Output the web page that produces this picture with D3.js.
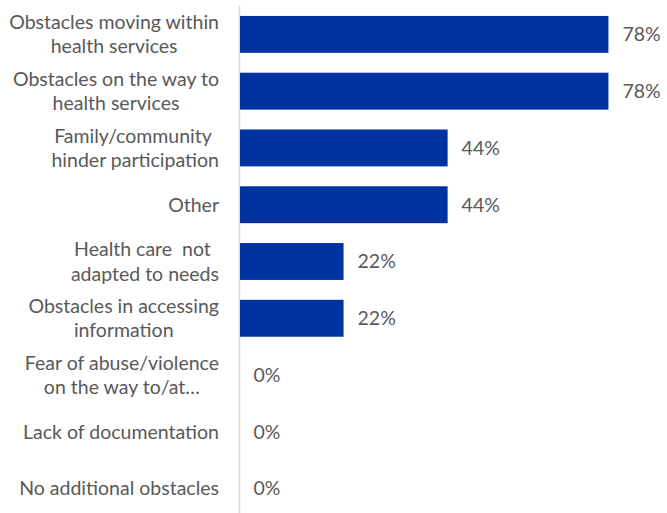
<!DOCTYPE html>
<html>
<head>
<meta charset="utf-8">
<script src="https://cdn.jsdelivr.net/npm/d3@7"></script>
<style>
  html, body { margin: 0; padding: 0; background: #fff; }
  svg text { font-family: Lato, "Open Sans", sans-serif; fill: #595959; white-space: pre; }
</style>
</head>
<body>
<svg id="chart" width="667" height="513"></svg>
<script>
// Obstacles reported, share of respondents (%)
const categories = [
  ["Obstacles moving within", "health services"],
  ["Obstacles on the way to", "health services"],
  ["Family/community ", "hinder participation"],
  ["Other"],
  ["Health care  not ", "adapted to needs"],
  ["Obstacles in accessing", "information"],
  ["Fear of abuse/violence", "on the way to/at\u2026"],
  ["Lack of documentation"],
  ["No additional obstacles"]
];
const values = [78, 78, 44, 44, 22, 22, 0, 0, 0];
const valueLabels = ["78%", "78%", "44%", "44%", "22%", "22%", "0%", "0%", "0%"];

const svg = d3.select("#chart");
const idx = d3.range(categories.length);

const x = d3.scaleLinear().domain([0, 100]).range([239.5, 712.5]);
const y = d3.scaleBand().domain(idx).range([6, 517]).paddingInner(0.35).paddingOuter(0.175);

const fontSize = 19.5;
const lineGap = 24.5;
const labelRight = 219;

// vertical category axis line
svg.append("line")
  .attr("x1", x(0)).attr("x2", x(0))
  .attr("y1", 6).attr("y2", 513)
  .attr("stroke", "#d9d9d9").attr("stroke-width", 1.5);

// bars
svg.append("g").selectAll("rect").data(idx).join("rect")
  .attr("x", x(0) + 0.5)
  .attr("y", i => y(i))
  .attr("width", i => Math.max(0, x(values[i]) - x(0) - 0.5))
  .attr("height", y.bandwidth())
  .attr("fill", "#0033a0");

// value labels
svg.append("g").selectAll("text").data(idx).join("text")
  .attr("x", i => x(values[i]) + 14)
  .attr("y", i => y(i) + y.bandwidth() / 2)
  .attr("dy", "0.35em")
  .attr("font-size", fontSize)
  .text(i => valueLabels[i]);

// category labels: lines centred within a right-aligned block
const labels = svg.append("g");
idx.forEach(i => {
  const lines = categories[i];
  const g = labels.append("g");
  const cy = y(i) + y.bandwidth() / 2;
  const texts = lines.map((t, k) => g.append("text")
    .attr("font-size", fontSize)
    .attr("text-anchor", "middle")
    .attr("y", cy + (k - (lines.length - 1) / 2) * lineGap)
    .attr("dy", "0.35em")
    .text(t));
  const w = d3.max(texts, t => t.node().getComputedTextLength());
  texts.forEach(t => t.attr("x", labelRight - w / 2));
});
</script>
</body>
</html>
